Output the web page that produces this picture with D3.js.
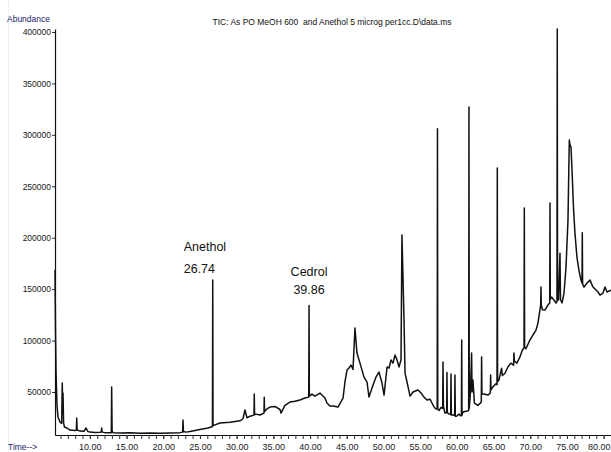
<!DOCTYPE html>
<html>
<head>
<meta charset="utf-8">
<script src="https://cdn.jsdelivr.net/npm/d3@7"></script>
<style>
  body { margin: 0; background: #fff; }
  svg { display: block; }
  text { font-family: Arial, "Liberation Sans", sans-serif; }
</style>
</head>
<body>
<svg id="chart" width="611" height="452"></svg>
<script>
// Total ion chromatogram: retention time (min) and abundance
const times = [
  5.25, 5.32, 5.39, 5.52, 5.66, 5.93, 6.16, 6.24, 6.30, 6.34, 6.42, 6.54, 6.88, 7.29, 7.97,
  8.16, 8.21, 8.27, 8.66, 9.20, 9.47, 9.75, 10.02, 10.70, 11.38, 11.56, 11.61, 11.67, 12.06,
  12.74, 12.92, 12.97, 13.03, 13.15, 14.11, 15.47, 16.83, 18.19, 19.55, 20.92, 22.28, 22.64,
  22.69, 22.75, 23.10, 23.64, 25.00, 26.09, 26.70, 26.74, 26.78, 27.05, 27.73, 29.09, 30.45,
  30.86, 31.13, 31.41, 31.82, 32.36, 32.40, 32.44, 32.63, 33.18, 33.72, 33.76, 33.80, 34.13,
  34.54, 35.22, 35.90, 36.04, 36.58, 37.26, 37.94, 38.62, 39.30, 39.82, 39.86, 39.90, 40.25,
  40.66, 41.35, 42.03, 42.30, 42.71, 43.12, 43.80, 44.49, 44.76, 45.03, 45.30, 45.58, 45.85,
  46.12, 46.39, 46.80, 47.35, 47.76, 48.03, 48.44, 48.98, 49.39, 49.80, 50.08, 50.49, 50.76,
  51.03, 51.30, 51.57, 51.85, 52.12, 52.39, 52.52, 52.80, 52.94, 53.21, 53.62, 54.03, 54.71,
  55.12, 55.52, 55.93, 56.34, 56.61, 56.89, 57.16, 57.32, 57.36, 57.40, 57.57, 57.84, 58.07,
  58.11, 58.17, 58.38, 58.61, 58.65, 58.70, 58.93, 59.16, 59.20, 59.25, 59.47, 59.70, 59.74,
  59.79, 60.02, 60.29, 60.49, 60.62, 60.66, 60.70, 60.83, 61.10, 61.44, 61.61, 61.65, 61.69,
  61.85, 62.01, 62.07, 62.19, 62.39, 62.87, 63.33, 63.37, 63.42, 63.68, 64.23, 64.56, 64.60,
  64.65, 64.91, 65.32, 65.47, 65.51, 65.55, 65.73, 66.09, 66.20, 66.54, 66.95, 67.36, 67.73,
  67.78, 67.83, 68.18, 68.59, 68.93, 69.15, 69.19, 69.23, 69.41, 69.95, 70.36, 70.77, 71.05,
  71.25, 71.42, 71.46, 71.50, 71.66, 72.00, 72.41, 72.65, 72.69, 72.73, 72.89, 73.23, 73.51,
  73.64, 73.68, 73.72, 73.85, 74.05, 74.12, 74.32, 74.60, 74.87, 75.14, 75.25, 75.32, 75.42,
  75.55, 75.69, 75.89, 76.09, 76.36, 76.64, 76.91, 77.05, 77.09, 77.13, 77.32, 77.73, 78.14,
  78.55, 78.96, 79.23, 79.50, 79.91, 80.18, 80.46, 81.00
];
const abundance = [
  168500, 110200, 68400, 37300, 25700, 20800, 19500, 58700, 30000, 49000, 20000, 16000, 15000, 13000, 12500,
  13000, 24700, 13000, 12000, 11800, 15000, 11500, 11000, 10600, 10800, 11000, 15000, 11000, 10500,
  10400, 10500, 54800, 12000, 10500, 10100, 10400, 10000, 10100, 9800, 10100, 10500, 11000,
  22700, 11500, 11000, 11500, 13500, 15000, 16500, 159000, 17500, 18000, 19800, 20500, 22000,
  24000, 32500, 25000, 26500, 27500, 48000, 28000, 28500, 27600, 29500, 45000, 31000, 33500,
  35400, 36000, 33000, 29500, 37000, 40200, 41000, 42200, 44100, 45000, 134000, 46000, 48000,
  46000, 49000, 44100, 39300, 36400, 36400, 35400, 44100, 60000, 71300, 73300, 76200, 72000,
  112200, 87900, 78100, 64500, 59700, 45100, 53800, 64500, 69400, 58700, 47000, 74300, 73300,
  81100, 78100, 85900, 81100, 74300, 81100, 202600, 119900, 68400, 59700, 46000, 50000, 52000,
  49000, 45000, 42200, 43000, 39300, 35400, 33500, 34000, 306000, 33000, 32000, 35000, 34000,
  79100, 36000, 29500, 30000, 69000, 30000, 28600, 28000, 67500, 27600, 27600, 27000, 66500,
  26500, 26600, 28600, 27000, 27000, 100500, 27500, 30500, 31000, 31500, 32000, 327000, 34000,
  50000, 88000, 50000, 61600, 39300, 37000, 40000, 84000, 48000, 48000, 47000, 49000, 66500,
  52000, 55000, 58000, 57000, 267700, 60000, 61600, 73000, 66000, 68000, 74300, 78100, 76000,
  87900, 80000, 78100, 84000, 90800, 93000, 228800, 94000, 92000, 100500, 105400, 110000, 117000,
  126700, 134500, 152000, 134500, 130000, 129700, 134500, 136500, 233700, 140000, 142300, 139400, 136500,
  138000, 403000, 140000, 139400, 185000, 140000, 136500, 146200, 171500, 217100, 265700, 294900, 290000,
  288100, 265700, 229000, 204500, 181200, 168000, 158800, 155900, 204700, 155000, 152000, 155900, 158800,
  152000, 149100, 147200, 144200, 146200, 152000, 147200, 149100
];

// Axis ticks
const yTickValues = [50000, 100000, 150000, 200000, 250000, 300000, 350000, 400000];
const xMajorTicks = [10, 15, 20, 25, 30, 35, 40, 45, 50, 55, 60, 65, 70, 75, 80];
const xMinorTicks = d3.range(6, 82, 1);

// Identified compounds
const peakNames = ["Anethol", "Cedrol"];
const peakTimes = [26.74, 39.86];

const chartTitle = "TIC: As PO MeOH 600  and Anethol 5 microg per1cc.D\\data.ms";

const svg = d3.select("#chart");
const plotLeft = 55, plotRight = 611, plotTop = 29, plotBottom = 435;

const x = d3.scaleLinear().domain([5.25, 81.0]).range([plotLeft, plotRight]);
const y = d3.scaleLinear().domain([8200, 402900]).range([plotBottom, plotTop]);

// faint window edge
svg.append("line")
  .attr("x1", 8.5).attr("x2", 8.5).attr("y1", 0).attr("y2", 452)
  .attr("stroke", "#e9f4ec").attr("stroke-width", 1);

// title
svg.append("text")
  .attr("x", 332).attr("y", 25)
  .attr("text-anchor", "middle")
  .attr("font-size", 9)
  .attr("textLength", 239).attr("lengthAdjust", "spacingAndGlyphs")
  .attr("fill", "#111")
  .style("white-space", "pre")
  .text(chartTitle);

svg.append("text")
  .attr("x", 7).attr("y", 22)
  .attr("font-size", 8.5)
  .attr("fill", "#1b1b6b")
  .text("Abundance");

svg.append("text")
  .attr("x", 8).attr("y", 450)
  .attr("font-size", 8.5)
  .attr("fill", "#1b1b6b")
  .text("Time-->");

// Y axis
const yAxis = svg.append("g")
  .attr("transform", `translate(${plotLeft},0)`)
  .call(d3.axisLeft(y).tickValues(yTickValues).tickSize(3).tickSizeOuter(0)
    .tickPadding(1).tickFormat(d3.format("d")));
yAxis.selectAll("text").attr("font-size", 8.5).attr("fill", "#1a1a1a")
  .style("font-family", "Arial, 'Liberation Sans', sans-serif");
yAxis.select(".domain").attr("stroke", "#111").attr("stroke-width", 1.2);
yAxis.selectAll(".tick line").attr("stroke", "#333");

// X axis: minor ticks every minute, labels every five
const xMinor = svg.append("g")
  .attr("transform", `translate(0,${plotBottom})`)
  .call(d3.axisBottom(x).tickValues(xMinorTicks).tickSize(4).tickSizeOuter(0).tickFormat(""));
xMinor.select(".domain").attr("stroke", "#111").attr("stroke-width", 1.2);
xMinor.selectAll(".tick line").attr("stroke", "#333");

const xMajor = svg.append("g")
  .attr("transform", `translate(0,${plotBottom})`)
  .call(d3.axisBottom(x).tickValues(xMajorTicks).tickSize(4).tickSizeOuter(0)
    .tickPadding(5).tickFormat(d3.format(".2f")));
xMajor.select(".domain").remove();
xMajor.selectAll(".tick line").attr("stroke", "#333");
xMajor.selectAll("text").attr("font-size", 9).attr("fill", "#1a1a1a")
  .style("font-family", "Arial, 'Liberation Sans', sans-serif");
// keep the last label inside the frame
xMajor.selectAll(".tick").filter(d => d === 80).select("text")
  .attr("text-anchor", "end").attr("x", plotRight - 1 - x(80));

// chromatogram trace
const series = times.map((t, i) => ({ t, a: abundance[i] }));
const line = d3.line().x(d => x(d.t)).y(d => y(d.a));
svg.append("path")
  .datum(series)
  .attr("fill", "none")
  .attr("stroke", "#111")
  .attr("stroke-width", 1.5)
  .attr("stroke-linejoin", "round")
  .attr("d", line);

// compound labels
const labelFont = 12.5;
svg.append("text").attr("x", x(peakTimes[0]) - 29).attr("y", 251)
  .attr("font-size", labelFont).attr("fill", "#111").text(peakNames[0]);
svg.append("text").attr("x", x(peakTimes[0]) - 29).attr("y", 273)
  .attr("font-size", labelFont).attr("fill", "#111").text(peakTimes[0].toFixed(2));
svg.append("text").attr("x", x(peakTimes[1])).attr("y", 276)
  .attr("text-anchor", "middle")
  .attr("font-size", labelFont).attr("fill", "#111").text(peakNames[1]);
svg.append("text").attr("x", x(peakTimes[1])).attr("y", 294)
  .attr("text-anchor", "middle")
  .attr("font-size", labelFont).attr("fill", "#111").text(peakTimes[1].toFixed(2));
</script>
</body>
</html>
